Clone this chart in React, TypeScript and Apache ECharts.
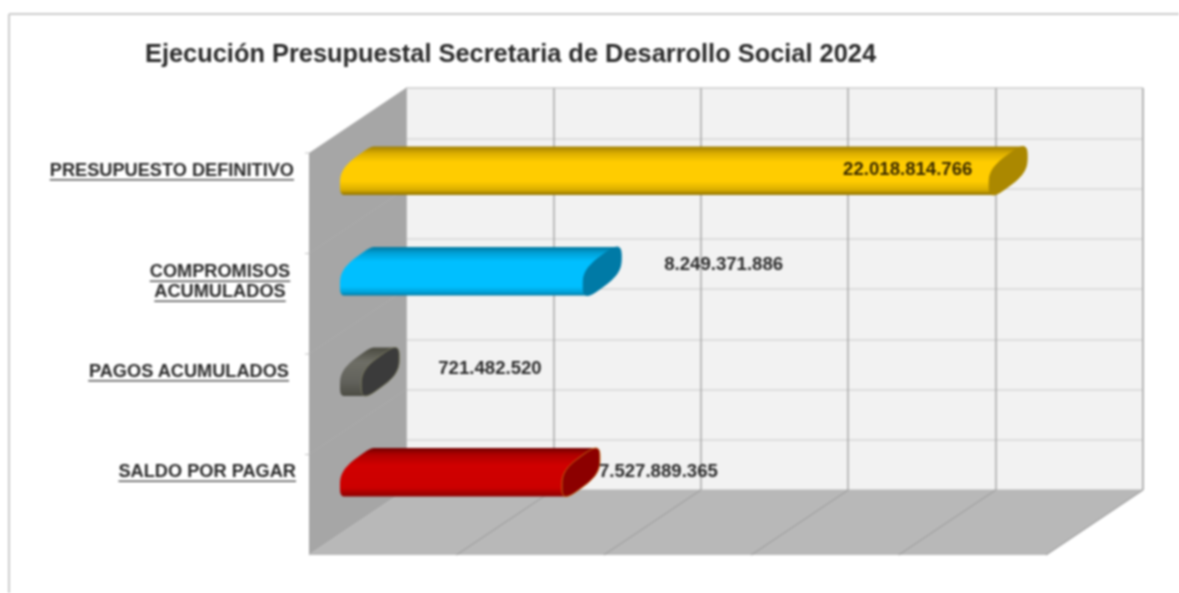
import React, { useEffect, useRef } from "react";
import * as echarts from "echarts";

const categories = ["PRESUPUESTO DEFINITIVO", "COMPROMISOS\nACUMULADOS", "PAGOS ACUMULADOS", "SALDO POR PAGAR"];
const values = [22018814766, 8249371886, 721482520, 7527889365];
const axisMax = 25000000000;
const axisStep = 5000000000;

const bodyStops = [
  [[0, "#a07f00"], [0.14, "#dcae00"], [0.32, "#ffcc00"], [0.72, "#ffcc00"], [0.9, "#d9ad00"], [1, "#8f7200"]],
  [[0, "#00789f"], [0.12, "#00a0d6"], [0.3, "#00bfff"], [0.82, "#00bfff"], [0.94, "#00a0d6"], [1, "#00789f"]],
  [[0, "#4a4a40"], [0.3, "#6e6e66"], [0.7, "#62625c"], [1, "#4c4c44"]],
  [[0, "#740000"], [0.14, "#b00000"], [0.36, "#d00000"], [0.82, "#cc0000"], [1, "#8c0000"]],
];
const capFill = ["#ab8800", "#007aa6", "#3b3b3b", "#8c0000"];
const capStroke = ["#ab8800", "#007aa6", "#77775a", "#c46a10"];

// layout of the hand-placed labels
const labelRight = [294, 220, 289, 296];
const labelAlign = ["right", "center", "right", "right"];
const labelDy = [-1, 10, -1, -1];
const valueDx = [-146, 81, 77, 37];
const valueDy = [-2, -8, -4, -2];

const DEPTH_X = -97;
const DEPTH_Y = 65;
const BAR_DX = -66;
const BAR_DY = 32.5;
const FONT = '"Liberation Sans", Arial, sans-serif';

function fmt(v: number) {
  return String(v).replace(/\B(?=(\d{3})+$)/g, ".");
}

function capPoints(cx: number, cy: number) {
  const pts: number[][] = [];
  const n = 3.2;
  for (let i = 0; i < 72; i++) {
    const t = (i / 72) * Math.PI * 2;
    const c = Math.cos(t);
    const s = Math.sin(t);
    const V = Math.sign(c) * Math.pow(Math.abs(c), 2 / n);
    const U = Math.sign(s) * Math.pow(Math.abs(s), 2 / n);
    pts.push([cx + V * 19, cy + U * 16 - V * 14]);
  }
  return pts;
}

function bodyPoints(xLeft: number, xRight: number, cy: number) {
  const L = capPoints(xLeft, cy);
  const R = capPoints(xRight, cy);
  let top = 0;
  let bot = 0;
  L.forEach((p, i) => {
    if (p[1] < L[top][1]) top = i;
    if (p[1] > L[bot][1]) bot = i;
  });
  const out: number[][] = [];
  for (let i = bot; ; i = (i + 1) % 72) {
    out.push(L[i]);
    if (i === top) break;
  }
  for (let i = top; ; i = (i + 1) % 72) {
    out.push(R[i]);
    if (i === bot) break;
  }
  return out;
}

const measure = (text: string, font: string) => {
  const ctx = document.createElement("canvas").getContext("2d")!;
  ctx.font = font;
  return ctx.measureText(text).width;
};

export default function App() {
  const ref = useRef<HTMLDivElement>(null);
  useEffect(() => {
    const chart = echarts.init(ref.current!, null, { renderer: "svg" });
    const ticks: number[] = [];
    for (let v = 0; v <= axisMax; v += axisStep) ticks.push(v);

    const labelFont = `bold 18.2px ${FONT}`;
    const valueFont = `bold 18.6px ${FONT}`;
    chart.setOption({
      animation: false,
      backgroundColor: "#ffffff",
      title: {
        text: "Ejecución Presupuestal Secretaria de Desarrollo Social 2024",
        left: 140,
        top: 35,
        textStyle: { fontFamily: FONT, fontSize: 25.4, fontWeight: "bold", color: "#2b2b2b" },
      },
      graphic: [
        { type: "line", shape: { x1: 9, y1: 14, x2: 1179, y2: 14 }, style: { stroke: "#cccccc", lineWidth: 2 } },
        { type: "line", shape: { x1: 9, y1: 14, x2: 9, y2: 593 }, style: { stroke: "#cccccc", lineWidth: 2 } },
      ],
      grid: {
        left: 406, right: 36, top: 88, bottom: 103,
        show: true, backgroundColor: "#f2f2f2", borderColor: "#bdbdbd", borderWidth: 1,
      },
      xAxis: {
        type: "value", min: 0, max: axisMax, interval: axisStep,
        axisLabel: { show: false }, axisTick: { show: false }, axisLine: { show: false },
        splitLine: { show: true, lineStyle: { color: "#a9a9a9", width: 1.5 } },
      },
      yAxis: [
        {
          type: "category", data: categories, inverse: true,
          axisLabel: { show: false }, axisTick: { show: false }, axisLine: { show: false }, splitLine: { show: false },
        },
        {
          type: "value", min: 0, max: 8, interval: 1,
          axisLabel: { show: false }, axisTick: { show: false }, axisLine: { show: false },
          splitLine: { show: true, lineStyle: { color: "#d6d6d6", width: 1.5 } },
        },
      ],
      series: [
        {
          type: "custom", z: 1, silent: true, coordinateSystem: "cartesian2d", yAxisIndex: 0,
          data: ticks.map((v) => [v]),
          clip: false,
          renderItem: (params: any, api: any) => {
            const v = api.value(0);
            const [x] = api.coord([v, 0]);
            const r = params.coordSys;
            const top = r.y;
            const bot = r.y + r.height;
            const children: any[] = [];
            if (params.dataIndex === 0) {
              const xEnd = api.coord([axisMax, 0])[0];
              children.push({
                type: "polygon", z2: 0,
                shape: { points: [[x, bot], [xEnd, bot], [xEnd + DEPTH_X, bot + DEPTH_Y], [x + DEPTH_X, bot + DEPTH_Y]] },
                style: { fill: "#b8b8b8" },
              });
              children.push({
                type: "polygon", z2: 1,
                shape: { points: [[x, top], [x, bot], [x + DEPTH_X, bot + DEPTH_Y], [x + DEPTH_X, top + DEPTH_Y]] },
                style: { fill: "#a6a6a6" },
              });
              categories.forEach((_, i) => {
                const y = top + (i * r.height) / 4 + DEPTH_Y;
                children.push({
                  type: "line", z2: 2,
                  shape: { x1: x + DEPTH_X - 4, y1: y, x2: x + DEPTH_X, y2: y },
                  style: { stroke: "#c4c4c4", lineWidth: 1 },
                });
                if (i > 0) {
                  children.push({
                    type: "line", z2: 2,
                    shape: { x1: x + DEPTH_X, y1: y, x2: x, y2: y - DEPTH_Y },
                    style: { stroke: "#adadad", lineWidth: 1 },
                  });
                }
              });
            }
            children.push({
              type: "line", z2: 3,
              shape: { x1: x, y1: bot, x2: x + DEPTH_X, y2: bot + DEPTH_Y },
              style: { stroke: params.dataIndex === 0 ? "#bcbcbc" : "#a2a2a2", lineWidth: 1.2 },
            });
            return { type: "group", children };
          },
        },
        {
          type: "custom", z: 5, silent: true, coordinateSystem: "cartesian2d", yAxisIndex: 0,
          clip: false,
          data: values.map((v, i) => [v, i]),
          encode: { x: 0, y: 1 },
          renderItem: (params: any, api: any) => {
            const i = params.dataIndex;
            const v = api.value(0);
            const c = api.value(1);
            const [x0, y0] = api.coord([0, c]);
            const [x1] = api.coord([v, c]);
            const cy = y0 + BAR_DY;
            const left = x0 + BAR_DX + 19;
            const right = x1 + BAR_DX + 19;
            const grad = new echarts.graphic.LinearGradient(
              0, 0, 0, 1,
              bodyStops[i].map((s: any) => ({ offset: s[0], color: s[1] }))
            );
            return {
              type: "group",
              children: [
                { type: "polygon", z2: 1, shape: { points: bodyPoints(left, right, cy) }, style: { fill: grad } },
                {
                  type: "polygon", z2: 2, shape: { points: capPoints(right, cy) },
                  style: { fill: capFill[i], stroke: capStroke[i], lineWidth: 1 },
                },
              ],
            };
          },
        },
        {
          type: "custom", z: 8, silent: true, coordinateSystem: "cartesian2d", yAxisIndex: 0,
          clip: false,
          data: values.map((v, i) => [v, i]),
          encode: { x: 0, y: 1 },
          renderItem: (params: any, api: any) => {
            const i = params.dataIndex;
            const v = api.value(0);
            const c = api.value(1);
            const [x0, y0] = api.coord([0, c]);
            const [x1] = api.coord([v, c]);
            const cy = y0 + BAR_DY;
            const children: any[] = [];
            children.push({
              type: "text", z2: 3,
              style: {
                text: fmt(v), x: x1 + BAR_DX + valueDx[i], y: cy + valueDy[i],
                align: "left", verticalAlign: "middle",
                font: valueFont, fill: i === 0 ? "#3a2a00" : "#2b2b2b",
              },
            });
            const lines = categories[i].split("\n");
            const lh = 20;
            lines.forEach((t, k) => {
              const y = cy + labelDy[i] + (k - (lines.length - 1) / 2) * lh;
              const w = measure(t, labelFont);
              const rx = labelRight[i];
              const lx = labelAlign[i] === "center" ? rx - w / 2 : rx - w;
              children.push({
                type: "text", z2: 3,
                style: { text: t, x: rx, y, align: labelAlign[i], verticalAlign: "middle", font: labelFont, fill: "#2b2b2b" },
              });
              children.push({
                type: "line", z2: 3,
                shape: { x1: lx, y1: y + 10, x2: lx + w, y2: y + 10 },
                style: { stroke: "#555555", lineWidth: 1.4 },
              });
            });
            return { type: "group", children };
          },
        },
      ],
    });
    return () => chart.dispose();
  }, []);
  return (
    <div
      ref={ref}
      style={{ position: "absolute", left: 0, top: 0, width: 1179, height: 593, filter: "blur(0.8px)" }}
    />
  );
}
